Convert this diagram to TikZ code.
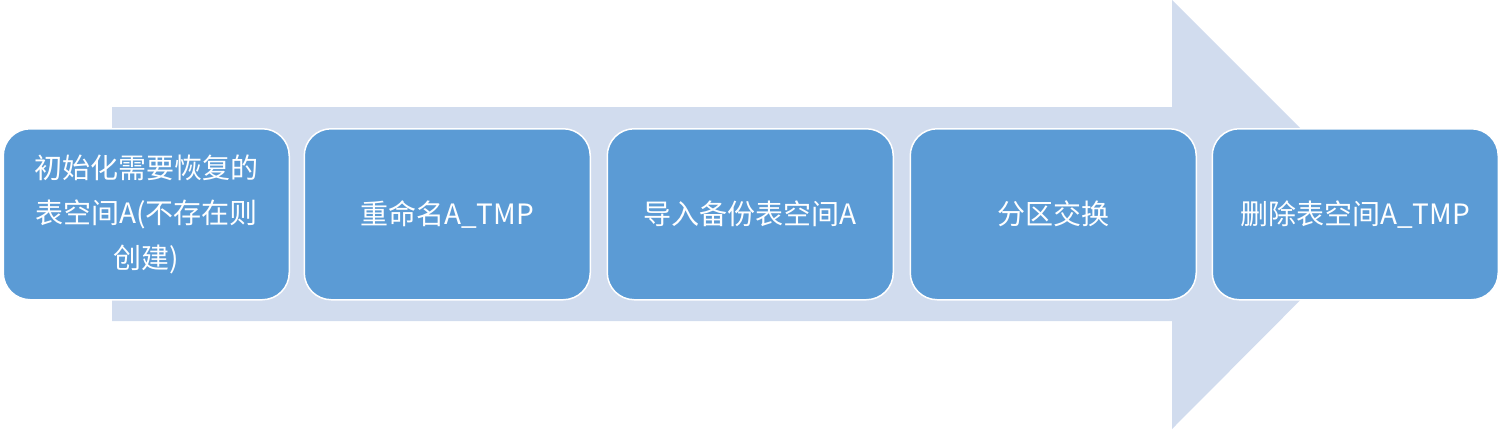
\documentclass[tikz,border=0pt]{standalone}
\usepackage{fontspec}
\setmainfont{Noto Sans CJK SC}
\definecolor{arrowc}{HTML}{D1DCEE}
\definecolor{boxc}{HTML}{5B9BD5}
\begin{document}
\begin{tikzpicture}[x=1pt,y=-1pt,
  stepbox/.style={draw=white, line width=1.5pt, fill=boxc, rounded corners=27pt,
    minimum width=286pt, minimum height=171pt, text=white, align=center,
    font=\fontsize{28}{45}\selectfont, inner sep=0pt, anchor=north west}]
\useasboundingbox (0,0) rectangle (1500,429);
\fill[arrowc] (112,107) -- (1172,107) -- (1172,0) -- (1386,214) -- (1172,429) -- (1172,321) -- (112,321) -- cycle;
\node[stepbox] (b1) at (2.5,128) {初始化需要恢复的\\表空间A(不存在则\\创建)};
\node[stepbox] (b2) at (303.5,128) {重命名A\_TMP};
\node[stepbox] (b3) at (606.5,128) {导入备份表空间A};
\node[stepbox] (b4) at (909.5,128) {分区交换};
\node[stepbox] (b5) at (1211.5,128) {删除表空间A\_TMP};
\end{tikzpicture}
\end{document}
